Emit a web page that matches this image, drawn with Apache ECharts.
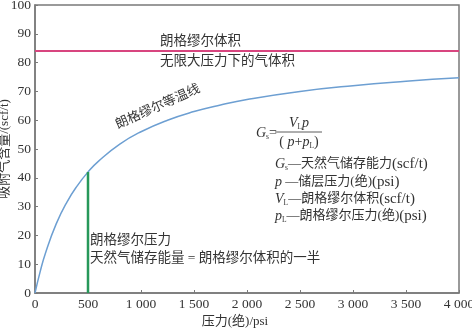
<!DOCTYPE html>
<html><head><meta charset="utf-8">
<script src="https://cdn.jsdelivr.net/npm/echarts@6/dist/echarts.min.js"></script>
<style>html,body{margin:0;padding:0;background:#fff}#c{width:472px;height:328px}</style>
</head><body><div id="c"></div>
<script>
// Langmuir isotherm
const pressure = [0, 50, 100, 200, 300, 400, 500, 600, 800, 1000, 1250, 1500, 1750, 2000, 2500, 3000, 3500, 4000];
const gasContent = [0, 7.6, 14, 24, 31.5, 37.3, 42, 45.8, 51.7, 56, 60, 63, 65.3, 67.2, 70, 72, 73.5, 74.7];
const langmuirVolume = 84;
const langmuirPressure = 500;
const langmuirPressureGas = 42;
const xTicks = [0, 500, 1000, 1500, 2000, 2500, 3000, 3500, 4000];
const yTicks = [0, 10, 20, 30, 40, 50, 60, 70, 80, 90, 100];

const FONT = '"Liberation Serif","Noto Sans CJK SC",serif';
const chart = echarts.init(document.getElementById('c'));
const fmt = v => v >= 1000 ? String(v).replace(/(\d)(\d{3})$/, '$1 $2') : String(v);
const C = '#333';
const sub = {fontFamily: FONT, fontSize: 7.5, fill: C, padding: [9, 0, 0, 0]};
const ital = {fontFamily: FONT, fontStyle: 'italic', fontSize: 14, fill: C};
const zh = {fontFamily: FONT, fontSize: 13, fill: C};
const lat = {fontFamily: FONT, fontSize: 15, fill: C};
function legendLine(y, txt) {
  return {type: 'text', x: 275, y: y, style: {text: txt, verticalAlign: 'middle', rich: {i: ital, s: sub, t: zh, l: lat}}};
}
const note = (x, y, t) => ({type: 'text', x: x, y: y, style: {text: t, font: '13.5px ' + FONT, fill: C, verticalAlign: 'middle'}});
chart.setOption({
  animation: false,
  grid: {left: 35, right: 13, top: 5, bottom: 35, containLabel: false, outerBoundsMode: 'none',
         show: true, borderColor: '#7a7a7a', borderWidth: 1.5},
  xAxis: {
    type: 'value', min: 0, max: 4000, interval: 500,
    name: '压力(绝)/psi', nameLocation: 'middle', nameGap: 22, nameMoveOverlap: false,
    nameTextStyle: {fontFamily: FONT, fontSize: 13, color: C, padding: [0, 24, 0, 0]},
    axisLine: {lineStyle: {color: '#7a7a7a', width: 1.5}},
    axisTick: {inside: true, length: 3, lineStyle: {color: '#7a7a7a'}},
    axisLabel: {fontFamily: FONT, fontSize: 13.5, color: C, margin: 5, formatter: fmt},
    splitLine: {show: false}
  },
  yAxis: {
    type: 'value', min: 0, max: 100, interval: 10,
    name: '吸附气含量/(scf/t)', nameLocation: 'middle', nameGap: 24, nameMoveOverlap: false,
    nameTextStyle: {fontFamily: FONT, fontSize: 13, color: C},
    axisLine: {lineStyle: {color: '#7a7a7a', width: 1.5}},
    axisTick: {inside: true, length: 3, lineStyle: {color: '#7a7a7a'}},
    axisLabel: {fontFamily: FONT, fontSize: 13.5, color: C, margin: 4},
    splitLine: {show: false}
  },
  series: [
    {type: 'line', data: pressure.map((p, i) => [p, gasContent[i]]), smooth: true, symbol: 'none',
     lineStyle: {color: '#6d9fd2', width: 1.5}},
    {type: 'line', data: [[0, langmuirVolume], [4000, langmuirVolume]], symbol: 'none',
     lineStyle: {color: '#d8457f', width: 2}},
    {type: 'line', data: [[langmuirPressure, 0], [langmuirPressure, langmuirPressureGas]], symbol: 'none',
     lineStyle: {color: '#27985a', width: 2.5}}
  ],
  graphic: [
    note(160, 41, '朗格缪尔体积'),
    note(160, 61, '无限大压力下的气体积'),
    {type: 'text', x: 158, y: 107, rotation: 0.42, style: {text: '朗格缪尔等温线', font: '13px ' + FONT, fill: C, align: 'center', verticalAlign: 'middle'}},
    note(90, 240, '朗格缪尔压力'),
    note(90, 258, '天然气储存能量 = 朗格缪尔体积的一半'),
    // formula
    {type: 'text', x: 256, y: 133, style: {text: '{i|G}{s|s}{n|=}', verticalAlign: 'middle', rich: {
      i: ital, s: sub, n: {fontFamily: FONT, fontSize: 14, fill: C}}}},
    {type: 'text', x: 299, y: 123, style: {text: '{i|V}{s|L}{i|p}', align: 'center', verticalAlign: 'middle', rich: {
      i: ital, s: sub}}},
    {type: 'line', shape: {x1: 275, y1: 132, x2: 322, y2: 132}, style: {stroke: C, lineWidth: 0.8}},
    {type: 'text', x: 299, y: 142, style: {text: '{n|( }{i|p}{n|+}{i|p}{s|L}{n|)}', align: 'center', verticalAlign: 'middle', rich: {
      i: ital, n: {fontFamily: FONT, fontSize: 14, fill: C}, s: sub}}},
    legendLine(164, '{i|G}{s|s}{t|—天然气储存能力}{l|(scf/t)}'),
    legendLine(182, '{i|p} {t|—储层压力(绝)}{l|(psi)}'),
    legendLine(199, '{i|V}{s|L}{t|—朗格缪尔体积}{l|(scf/t)}'),
    legendLine(216, '{i|p}{s|L}{t|—朗格缪尔压力(绝)}{l|(psi)}')
  ]
});
</script></body></html>
